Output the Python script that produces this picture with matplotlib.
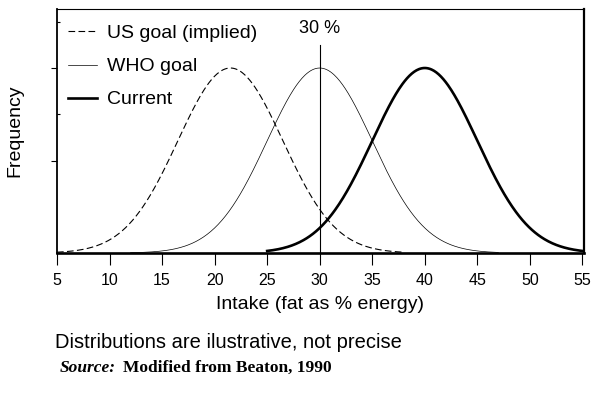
import numpy as np
import matplotlib
matplotlib.use("Agg")
import matplotlib.pyplot as plt

# Data (illustrative normal distributions)
series_names = ["US goal (implied)", "WHO goal", "Current"]
series_means = [21.5, 30.0, 40.0]       # % energy from fat
series_sds = [5.0, 5.0, 5.0]
series_ranges = [(5.0, 38.0), (12.0, 47.0), (25.0, 55.0)]
x_ticks = [5, 10, 15, 20, 25, 30, 35, 40, 45, 50, 55]
goal_line = 30
goal_label = "30 %"

plt.rcParams['font.family'] = ['Liberation Sans', 'DejaVu Sans']

fig = plt.figure(figsize=(5.99, 3.94), dpi=100)
ax = fig.add_axes([57/599, 1-253/394, (584-57)/599, (253-9)/394])

styles = [dict(color='black', lw=0.8, ls=(0, (6, 3))),
          dict(color='black', lw=0.5, ls='-'),
          dict(color='black', lw=1.9, ls='-')]

for name, mu, sd, (lo, hi), st in zip(series_names, series_means, series_sds,
                                      series_ranges, styles):
    xs = np.linspace(lo, hi, 400)
    ys = np.exp(-0.5 * ((xs - mu) / sd) ** 2)
    ax.plot(xs, ys, label=name, **st)

ax.plot([goal_line, goal_line], [0, 1.125], color='black', lw=0.8)
ax.text(goal_line, 1.215, goal_label, ha='center', va='center', fontsize=13)

ax.set_xlim(5, 55.15)
ax.set_ylim(0, 1.319)
ax.set_xticks(x_ticks)
ax.set_xticklabels([str(t) for t in x_ticks], fontsize=11.5)
ax.set_yticks([0.5, 1.0])
ax.set_yticklabels([])
ax.set_yticks([0.75, 1.25], minor=True)
ax.tick_params(axis='x', direction='out', length=8.5, width=0.8, pad=6)
ax.tick_params(axis='y', which='major', direction='out', length=4, width=0.8)
ax.tick_params(axis='y', which='minor', direction='in', length=2, width=0.8)

ax.spines['left'].set_linewidth(1.3)
ax.spines['bottom'].set_linewidth(1.9)
ax.spines['right'].set_linewidth(1.6)
ax.spines['top'].set_linewidth(0.8)

ax.set_xlabel("Intake (fat as % energy)", fontsize=14, labelpad=6)
ax.set_ylabel("Frequency", fontsize=14, labelpad=17)

leg = ax.legend(loc='upper left', frameon=False, fontsize=14, handlelength=1.5,
                handletextpad=0.55, labelspacing=0.8,
                bbox_to_anchor=(-0.0095, 1.0), borderaxespad=0.4)

fig.text(55/599, 1-343/394, "Distributions are ilustrative, not precise",
         fontsize=14.5, ha='left', va='center')
fig.text(60/599, 1-368/394, "Source:", fontsize=12.5, ha='left', va='center',
         family=['Liberation Serif', 'DejaVu Serif'], style='italic', weight='bold')
fig.text(123/599, 1-368/394, "Modified from Beaton, 1990", fontsize=12.5, ha='left',
         va='center', family=['Liberation Serif', 'DejaVu Serif'], weight='bold')

fig.savefig("out.png", dpi=100)
